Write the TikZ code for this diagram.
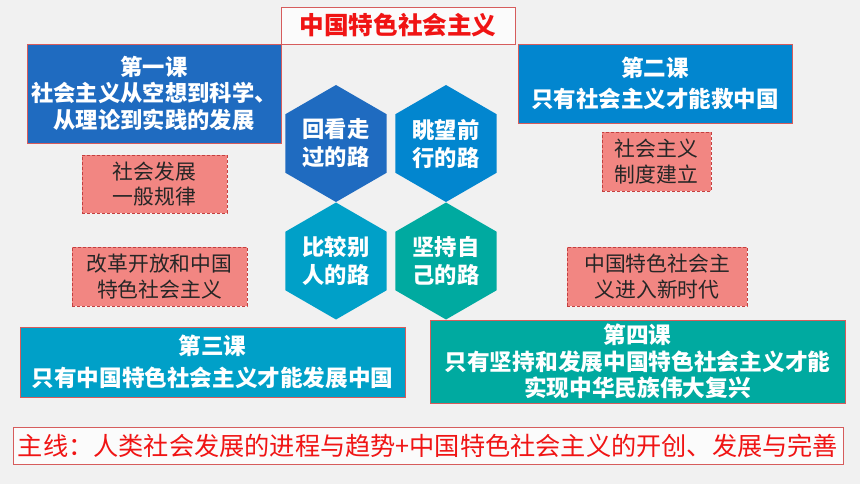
\documentclass[tikz,border=0pt]{standalone}
\usepackage{fontspec}
\newfontfamily\cjk{Noto Sans CJK SC}
\usepackage{tikz}
\usetikzlibrary{shapes.geometric}
\usetikzlibrary{positioning}

\definecolor{bgGray}{RGB}{241,241,241}
\definecolor{edgeRed}{RGB}{214,92,92}
\definecolor{titleRed}{RGB}{240,20,20}
\definecolor{noteFill}{RGB}{242,134,130}
\definecolor{noteEdge}{RGB}{196,64,64}
\definecolor{blueA}{RGB}{31,107,192}
\definecolor{blueB}{RGB}{2,134,207}
\definecolor{blueC}{RGB}{0,160,200}
\definecolor{greenD}{RGB}{0,170,160}

\begin{document}
\begin{tikzpicture}[x=1pt,y=-1pt,
every node/.style = {inner sep=0pt, outer sep=0pt},
lesson/.style = {rectangle, draw=edgeRed, line width=0.8pt, text=white,
      align=center, font=\cjk\bfseries\fontsize{22.3}{26.5}\selectfont},
note/.style = {rectangle, fill=noteFill, draw=noteEdge, densely dashed,
      line width=0.6pt, text=black!85, align=center,
      font=\cjk\fontsize{20.8}{25.5}\selectfont},
hexa/.style = {regular polygon, regular polygon sides=6,
      shape border rotate=30, minimum size=117pt, text=white,
      align=center, font=\cjk\bfseries\fontsize{22.3}{28}\selectfont},
banner/.style = {rectangle, fill=white!70!bgGray, draw=edgeRed,
      line width=0.8pt, text=titleRed}]

\fill[bgGray] (0,0) rectangle (860,484);

\node[banner, minimum width=234pt, minimum height=37pt,
      font=\cjk\bfseries\fontsize{24.6}{28}\selectfont]
      (title) at (398,25.5) {中国特色社会主义};

% four lessons
\node[lesson, fill=blueA, minimum width=254pt, minimum height=99pt]
      (lessonA) at (154,93.5) {第一课\\社会主义从空想到科学、\\从理论到实践的发展};

\node[lesson, fill=blueB, minimum width=274pt, minimum height=79pt,
      font=\cjk\bfseries\fontsize{22.5}{31}\selectfont]
      (lessonB) at (655,83.5) {第二课\\只有社会主义才能救中国};

\node[lesson, fill=blueC, minimum width=385pt, minimum height=70pt,
      font=\cjk\bfseries\fontsize{22.6}{32}\selectfont]
      (lessonC) at (212.5,362) {第三课\\只有中国特色社会主义才能发展中国};

\node[lesson, fill=greenD, minimum width=415pt, minimum height=83pt,
      font=\cjk\bfseries\fontsize{22.7}{26.5}\selectfont]
      (lessonD) at (637.5,361.5) {第四课\\只有坚持和发展中国特色社会主义才能\\实现中华民族伟大复兴};

% notes
\node[note, minimum width=145pt, minimum height=58pt]
      (noteA) at (154.5,184) {社会发展\\一般规律};
\node[note, minimum width=109pt, minimum height=59pt]
      (noteB) at (656.5,161.5) {社会主义\\制度建立};
\node[note, minimum width=175pt, minimum height=59pt]
      (noteC) at (159.5,276.5) {改革开放和中国\\特色社会主义};
\node[note, minimum width=180pt, minimum height=59pt]
      (noteD) at (657,276.5) {中国特色社会主\\义进入新时代};

% four roads
\node[hexa, fill=blueA]  (roadA) at (336,143.5) {回看走\\过的路};
\node[hexa, fill=blueB]  (roadB) at (446,143.5) {眺望前\\行的路};
\node[hexa, fill=blueC]  (roadC) at (336,261)   {比较别\\人的路};
\node[hexa, fill=greenD] (roadD) at (446,261)   {坚持自\\己的路};

\node[banner, minimum width=830pt, minimum height=37pt,
      font=\cjk\fontsize{25.2}{28}\selectfont]
      (mainline) at (428,445.5) {主线：人类社会发展的进程与趋势+中国特色社会主义的开创、发展与完善};

\end{tikzpicture}
\end{document}
